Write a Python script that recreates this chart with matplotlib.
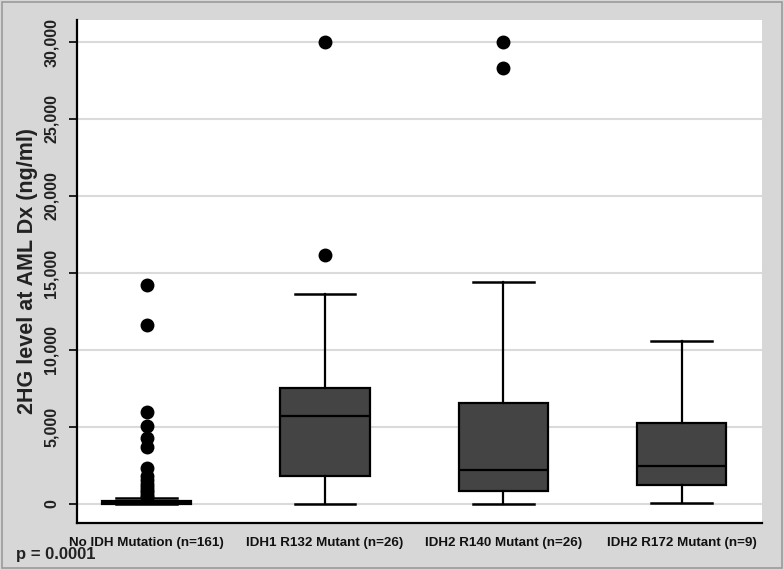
import matplotlib
matplotlib.use("Agg")
import matplotlib.pyplot as plt

categories = ["No IDH Mutation (n=161)", "IDH1 R132 Mutant (n=26)",
              "IDH2 R140 Mutant (n=26)", "IDH2 R172 Mutant (n=9)"]
whisker_low = [0, 0, 0, 70]
q1 = [20, 1820, 840, 1230]
median = [80, 5710, 2210, 2470]
q3 = [180, 7550, 6540, 5240]
whisker_high = [400, 13640, 14440, 10560]
outliers = [
    [14200, 11600, 5950, 5050, 4300, 3700, 2300, 1800, 1550, 1300, 1100, 900, 750, 600, 450],
    [16150, 30000],
    [28330, 30000],
    [],
]
yticks = [0, 5000, 10000, 15000, 20000, 25000, 30000]
ytick_labels = ["0", "5,000", "10,000", "15,000", "20,000", "25,000", "30,000"]
ylabel = "2HG level at AML Dx (ng/ml)"
p_text = "p = 0.0001"

plt.rcParams["font.family"] = ["Liberation Sans", "DejaVu Sans"]

fig = plt.figure(figsize=(7.84, 5.70), dpi=100, facecolor="#d7d7d7")
ax = fig.add_axes([77/784, 1-523/570, (762-77)/784, (523-20)/570])
ax.set_facecolor("white")

stats = []
for i in range(len(categories)):
    stats.append(dict(whislo=whisker_low[i], q1=q1[i], med=median[i], q3=q3[i],
                      whishi=whisker_high[i], fliers=outliers[i], label=categories[i]))

ax.bxp(stats, positions=range(len(categories)), widths=0.5, capwidths=0.34,
       patch_artist=True, showfliers=True,
       boxprops=dict(facecolor="#444444", edgecolor="black", linewidth=1.6),
       medianprops=dict(color="black", linewidth=1.6),
       whiskerprops=dict(color="black", linewidth=1.6),
       capprops=dict(color="black", linewidth=1.8),
       flierprops=dict(marker="o", markerfacecolor="black", markeredgecolor="black",
                       markersize=9))

ax.set_xlim(-0.39, 3.45)
ax.set_ylim(-1240, 31430)
ax.set_yticks(yticks)
ax.set_yticklabels(ytick_labels, rotation=90, va="center", fontsize=11.5,
                   fontweight="bold", color="#222222")
ax.set_xticks(range(len(categories)))
ax.set_xticklabels(categories, fontsize=9.6, fontweight="bold", color="#111111")
ax.tick_params(axis="x", length=0, pad=10)
ax.tick_params(axis="y", length=6, width=1.2, color="black", pad=7)
ax.yaxis.grid(True, color="#dadada", linewidth=1.5)
ax.set_axisbelow(True)
for s in ["top", "right"]:
    ax.spines[s].set_visible(False)
for s in ["left", "bottom"]:
    ax.spines[s].set_linewidth(1.6)
    ax.spines[s].set_color("black")

ax.set_ylabel(ylabel, fontsize=15.5, fontweight="bold", color="#222222", labelpad=4)
fig.text(16/784, 1-555/570, p_text, fontsize=12, fontweight="bold",
         color="#222222", va="center", ha="left")

fig.patches.append(plt.Rectangle((0.002, 0.003), 0.995, 0.994, transform=fig.transFigure,
                                 fill=False, edgecolor="#9a9a9a", linewidth=1.2))

fig.savefig("out.png", dpi=100, facecolor=fig.get_facecolor())
